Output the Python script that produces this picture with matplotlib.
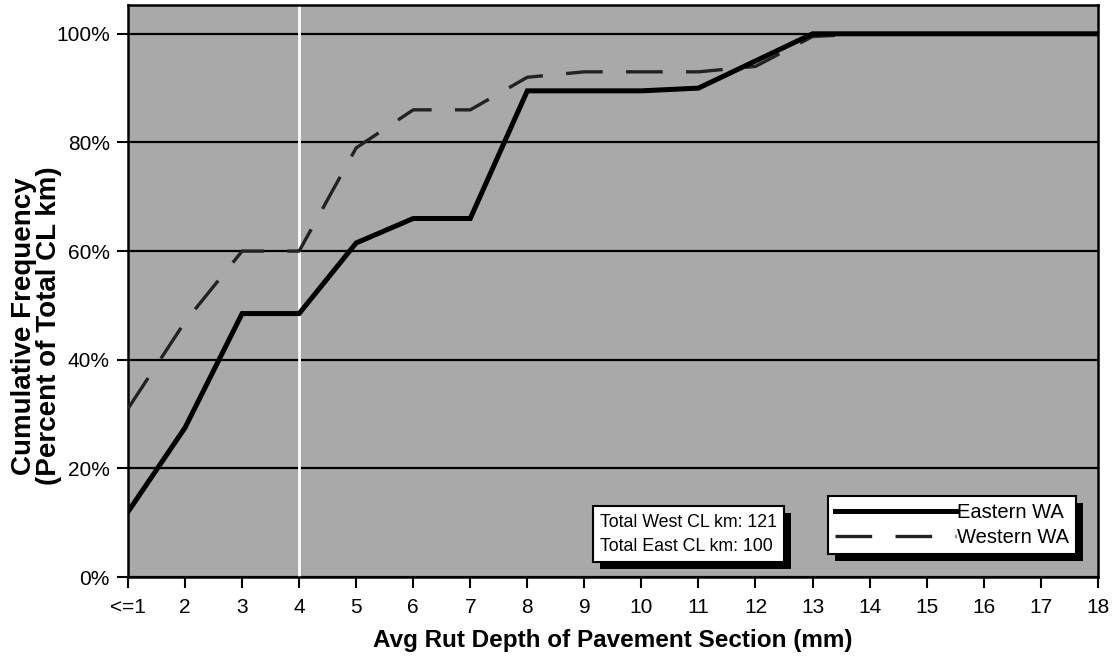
import matplotlib
matplotlib.use("Agg")
import matplotlib.pyplot as plt
import matplotlib.patheffects as pe

plt.rcParams["font.family"] = ["Liberation Sans", "DejaVu Sans"]

# rut depth classes (mm)
categories = ["<=1", "2", "3", "4", "5", "6", "7", "8", "9",
              "10", "11", "12", "13", "14", "15", "16", "17", "18"]
# cumulative percent of total centreline km
eastern_wa = [12, 27.5, 48.5, 48.5, 61.5, 66, 66, 89.5, 89.5,
              89.5, 90, 95, 100, 100, 100, 100, 100, 100]
western_wa = [31, 47, 60, 60, 79, 86, 86, 92, 93,
              93, 93, 94, 99.5, 100, 100, 100, 100, 100]
totals_text = "Total West CL km: 121\nTotal East CL km: 100"

fig = plt.figure(figsize=(11.19, 6.68), dpi=100)
ax = fig.add_axes([0.1144, 0.1362, 0.8666, 0.8563])
ax.set_facecolor("#a9a9a9")

x = list(range(len(categories)))
ax.plot(x, eastern_wa, color="black", lw=3.6, label="Eastern WA",
        solid_joinstyle="miter", zorder=4)
ax.plot(x, western_wa, color="#222222", lw=2.4, label="Western WA",
        dashes=(11, 7), zorder=3)

ax.set_xlim(0, len(categories) - 1)
ax.set_ylim(0, 105.3)
ax.set_xticks(x)
ax.set_xticklabels(categories)
ax.set_yticks(range(0, 101, 20))
ax.set_yticklabels([f"{v}%" for v in range(0, 101, 20)])
ax.tick_params(axis="both", direction="out", length=8, width=1.5,
               labelsize=15, pad=5)
ax.tick_params(axis="x", pad=7)
ax.grid(axis="y", color="black", lw=1.6)
ax.set_axisbelow(True)
ax.axvline(3, color="white", lw=2, zorder=2)
for s in ax.spines.values():
    s.set_linewidth(1.8)

ax.set_xlabel("Avg Rut Depth of Pavement Section (mm)", fontsize=17.5,
              fontweight="bold", labelpad=9)
# y label sits over the tick labels in the original, kept that way
fig.text(0.033, 0.512, "Cumulative Frequency\n(Percent of Total CL km)",
         rotation=90, ha="center", va="center", multialignment="center",
         fontsize=20, fontweight="bold", linespacing=0.95)

shadow = [pe.SimplePatchShadow(offset=(5, -5), shadow_rgbFace="black", alpha=1),
          pe.Normal()]

t = ax.text(0.487, 0.075, totals_text, transform=ax.transAxes, fontsize=12.8,
            va="center", ha="left", linespacing=1.55, zorder=6,
            bbox=dict(boxstyle="square,pad=0.4", fc="white", ec="black", lw=1.5))
t.get_bbox_patch().set_path_effects(shadow)

leg = ax.legend(loc="lower right", bbox_to_anchor=(0.988, 0.022), fontsize=14.5,
                handlelength=6.0, handletextpad=0.05, borderpad=0.35,
                labelspacing=0.3, fancybox=False, framealpha=1,
                edgecolor="black")
leg.get_frame().set_linewidth(1.5)
leg.get_frame().set_path_effects(shadow)
leg.set_zorder(6)

fig.savefig("out.png", dpi=100)
